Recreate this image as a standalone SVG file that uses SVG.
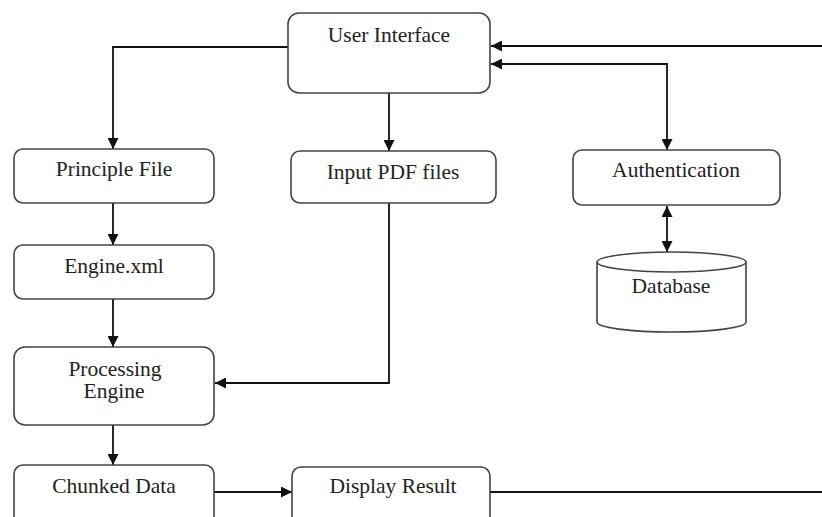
<svg xmlns="http://www.w3.org/2000/svg" width="822" height="517" viewBox="0 0 822 517">
<style>
.box{fill:#fff;stroke:#444;stroke-width:1.6}
.lbl{font-family:"Liberation Serif","Times New Roman",serif;font-size:21.5px;fill:#222;text-anchor:middle}
.con{fill:none;stroke:#111;stroke-width:1.8}
</style>
<defs>
<marker id="ah" viewBox="0 0 10 10" refX="10" refY="5" markerWidth="11" markerHeight="11" markerUnits="userSpaceOnUse" orient="auto-start-reverse">
<path d="M0,0 L10,5 L0,10 Z" fill="#111"/>
</marker>
</defs>
<rect width="822" height="517" fill="#fff"/>
<g id="connectors">
<path class="con" d="M288,47 H113 V149" marker-end="url(#ah)"/>
<path class="con" d="M389,93 V151" marker-end="url(#ah)"/>
<path class="con" d="M822,46 H491" marker-end="url(#ah)"/>
<path class="con" d="M491,64 H667 V150" marker-start="url(#ah)" marker-end="url(#ah)"/>
<path class="con" d="M667,206 V252" marker-start="url(#ah)" marker-end="url(#ah)"/>
<path class="con" d="M113,203 V245" marker-end="url(#ah)"/>
<path class="con" d="M113,299 V347" marker-end="url(#ah)"/>
<path class="con" d="M389,203 V383 H215" marker-end="url(#ah)"/>
<path class="con" d="M113,425 V465" marker-end="url(#ah)"/>
<path class="con" d="M214,492 H292" marker-end="url(#ah)"/>
<path class="con" d="M490,492 H822"/>
</g>
<g id="user-interface">
<rect class="box" x="288" y="13" width="202" height="80" rx="11"/>
<text class="lbl" x="389" y="42">User Interface</text>
</g>
<g id="principle-file">
<rect class="box" x="14" y="149" width="200" height="54" rx="9"/>
<text class="lbl" x="114" y="176">Principle File</text>
</g>
<g id="input-pdf-files">
<rect class="box" x="291" y="151" width="205" height="52" rx="9"/>
<text class="lbl" x="393" y="179">Input PDF files</text>
</g>
<g id="authentication">
<rect class="box" x="573" y="150" width="207" height="55" rx="9"/>
<text class="lbl" x="676" y="177">Authentication</text>
</g>
<g id="database">
<path class="box" d="M597,262 V322 A74,10 0 0 0 746,322 V262"/>
<ellipse class="box" cx="671.5" cy="262" rx="74.5" ry="10"/>
<text class="lbl" x="671" y="293">Database</text>
</g>
<g id="engine-xml">
<rect class="box" x="14" y="245" width="200" height="54" rx="9"/>
<text class="lbl" x="114" y="273">Engine.xml</text>
</g>
<g id="processing-engine">
<rect class="box" x="14" y="347" width="200" height="78" rx="11"/>
<text class="lbl" x="115" y="376">Processing</text>
<text class="lbl" x="114" y="398">Engine</text>
</g>
<g id="chunked-data">
<rect class="box" x="14" y="465" width="200" height="70" rx="9"/>
<text class="lbl" x="114" y="493">Chunked Data</text>
</g>
<g id="display-result">
<rect class="box" x="292" y="467" width="198" height="70" rx="9"/>
<text class="lbl" x="393" y="493">Display Result</text>
</g>
</svg>
